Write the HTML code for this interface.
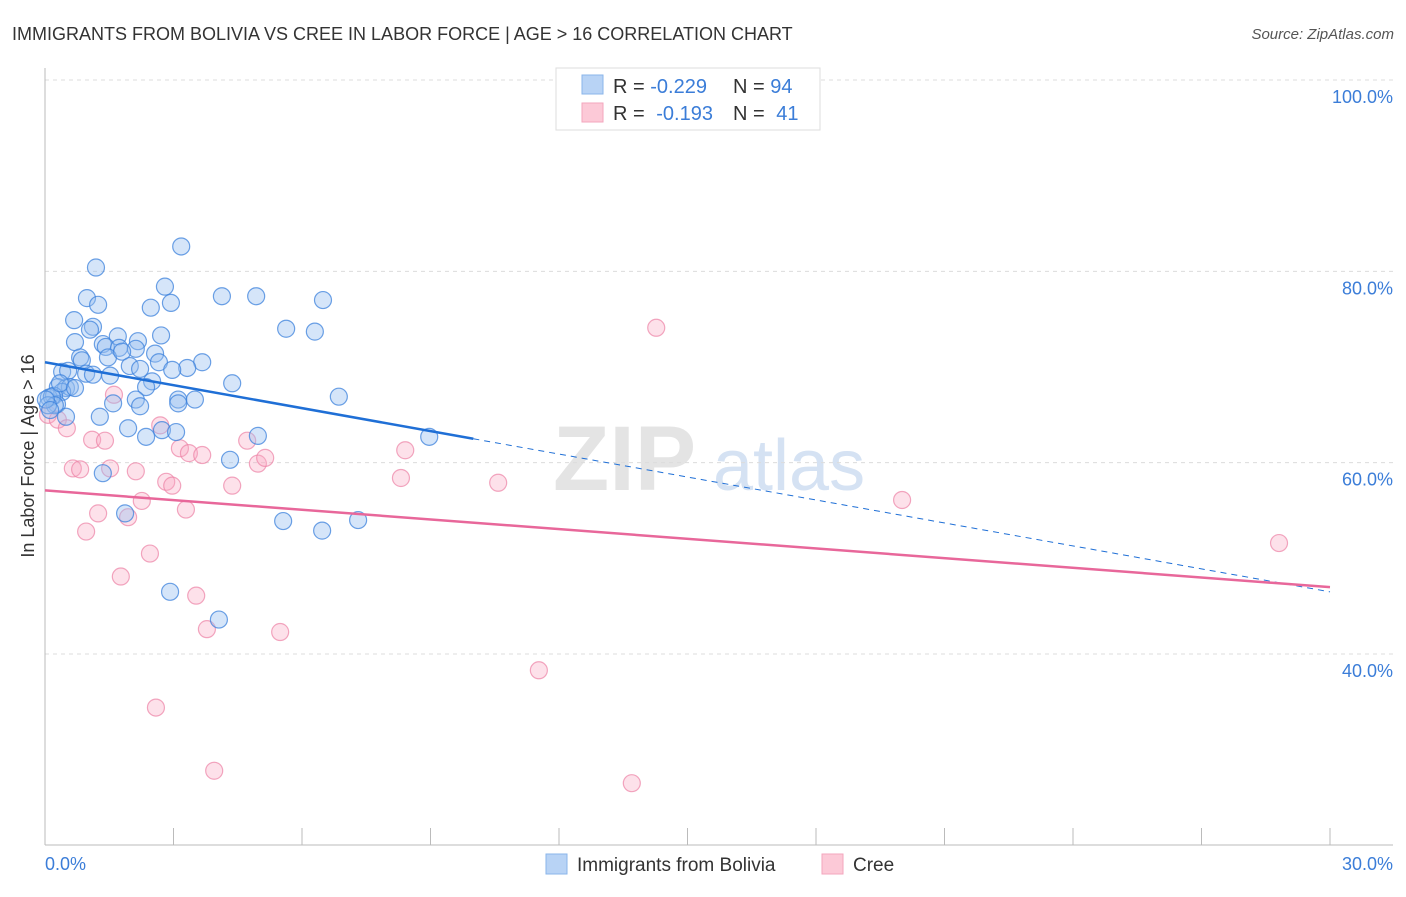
<!DOCTYPE html>
<html><head><meta charset="utf-8"><style>
body{margin:0;background:#fff;font-family:"Liberation Sans",sans-serif;}
svg text{font-family:"Liberation Sans",sans-serif;}
</style></head><body>
<svg id="chart" width="1406" height="892" viewBox="0 0 1406 892" xmlns="http://www.w3.org/2000/svg">
<text x="12" y="40" font-size="18" fill="#333">IMMIGRANTS FROM BOLIVIA VS CREE IN LABOR FORCE | AGE &gt; 16 CORRELATION CHART</text>
<text x="1394" y="39" font-size="15" fill="#555" font-style="italic" text-anchor="end">Source: ZipAtlas.com</text>
<g>
<text x="553" y="490" font-size="92" fill="#e4e4e4" font-family="Liberation Serif" font-weight="bold">ZIP</text>
<text x="713" y="490" font-size="72" fill="#d5e2f3">atlas</text>
</g>
<g id="grid"></g>
<g id="axes"></g>
<g id="marks"></g>
<text transform="translate(34,456) rotate(-90)" font-size="18" fill="#333" text-anchor="middle">In Labor Force | Age &gt; 16</text>
<text x="45" y="870" font-size="18" fill="#3b7dd8">0.0%</text>
<text x="1393" y="870" font-size="18" fill="#3b7dd8" text-anchor="end">30.0%</text>
<g>
<rect x="556" y="68" width="264" height="62" fill="#fff" stroke="#ddd"/>
<rect x="582" y="75" width="21" height="19" fill="#b8d3f5" stroke="#8ab4ea"/>
<rect x="582" y="103" width="21" height="19" fill="#fcc9d7" stroke="#f3a6bd"/>
<text x="613" y="93" font-size="20" fill="#333">R = <tspan fill="#3b7dd8">-0.229</tspan></text>
<text x="733" y="93" font-size="20" fill="#333">N = <tspan fill="#3b7dd8">94</tspan></text>
<text x="613" y="120" font-size="20" fill="#333">R = <tspan fill="#3b7dd8" dx="6">-0.193</tspan></text>
<text x="733" y="120" font-size="20" fill="#333">N = <tspan fill="#3b7dd8" dx="6">41</tspan></text>
</g>
<g>
<rect x="546" y="854" width="21" height="20" fill="#b8d3f5" stroke="#8ab4ea"/>
<text x="577" y="871" font-size="19" fill="#333">Immigrants from Bolivia</text>
<rect x="822" y="854" width="21" height="20" fill="#fcc9d7" stroke="#f3a6bd"/>
<text x="853" y="871" font-size="19" fill="#333">Cree</text>
</g>
</svg>
<script>
const yTicks=[100,80,60,40];
const yTickLabels=["100.0%","80.0%","60.0%","40.0%"];
const xTicks=[0,3,6,9,12,15,18,21,24,27,30];
const blueX=[3.18,1.19,2.80,0.98,1.24,2.94,2.47,4.13,4.93,6.49,0.68,1.12,1.05,1.70,5.63,6.30,2.71,2.17,0.70,1.35,1.42,1.73,2.12,2.57,0.82,0.86,1.47,1.80,3.67,2.66,1.98,2.22,0.40,0.54,0.96,1.12,1.52,3.32,2.97,2.50,2.36,4.37,0.30,0.49,0.58,0.40,6.86,3.11,3.50,3.11,2.12,2.22,1.59,0.09,0.21,0.28,0.49,1.28,1.94,2.73,3.06,2.36,4.97,8.97,4.32,1.35,1.87,5.56,7.31,6.47,2.92,4.06,0.16,0.23,0.07,0.35,0.02,0.12,0.70];
const blueY=[82.6,80.4,78.4,77.2,76.5,76.7,76.2,77.4,77.4,77.0,74.9,74.2,73.9,73.2,74.0,73.7,73.3,72.7,72.6,72.4,72.1,72.0,71.9,71.4,71.0,70.7,71.0,71.6,70.5,70.5,70.1,69.8,69.5,69.6,69.3,69.2,69.1,69.9,69.7,68.5,67.9,68.3,67.9,67.8,67.9,67.4,66.9,66.6,66.6,66.2,66.6,65.9,66.2,66.8,67.0,66.1,64.8,64.8,63.6,63.4,63.2,62.7,62.8,62.7,60.3,58.9,54.7,53.9,54.0,52.9,46.5,43.6,66.9,66.0,66.0,68.3,66.6,65.5,67.8];
const pinkX=[14.27,0.07,0.30,0.51,1.10,1.40,2.69,4.72,3.15,3.36,3.67,4.97,8.41,5.14,0.65,0.82,1.52,2.12,2.83,2.97,4.37,8.31,10.58,20.01,2.26,3.29,1.24,1.94,0.96,2.45,28.81,1.77,3.53,3.78,5.49,11.53,2.59,3.95,13.70,1.61];
const pinkY=[74.1,65.0,64.5,63.6,62.4,62.3,63.9,62.3,61.5,61.0,60.8,59.9,61.3,60.5,59.4,59.3,59.4,59.1,58.0,57.6,57.6,58.4,57.9,56.1,56.0,55.1,54.7,54.3,52.8,50.5,51.6,48.1,46.1,42.6,42.3,38.3,34.4,27.8,26.5,67.1];
const blueTrend=[70.5,-0.8];
const pinkTrend=[57.1,-0.337];
const blueSolidEnd=10;

const NS="http://www.w3.org/2000/svg";
const X0=45,X1=1330,YTOP=80,PXPER=9.567;
function sx(v){return X0+(v/30)*(X1-X0);}
function sy(v){return YTOP+(100-v)*PXPER;}
function mk(tag,attrs,parent){const e=document.createElementNS(NS,tag);for(const k in attrs)e.setAttribute(k,attrs[k]);parent.appendChild(e);return e;}
const grid=document.getElementById('grid'),axes=document.getElementById('axes'),marks=document.getElementById('marks');
yTicks.forEach((t,i)=>{
 const l=mk('line',{x1:X0,x2:1393,y1:sy(t),y2:sy(t),stroke:'#dcdcdc','stroke-dasharray':'4,4'},grid);
 
 
 const tx=mk('text',{x:1393,y:sy(t)+23,'font-size':18,fill:'#3b7dd8','text-anchor':'end'},axes);
 tx.textContent=yTickLabels[i];
 
 
});
const la=mk('line',{x1:X0,x2:X0,y1:68,y2:845,stroke:'#bbb'},axes);


const lb=mk('line',{x1:X0,x2:1393,y1:845,y2:845,stroke:'#bbb'},axes);


xTicks.forEach(t=>{
 const k=mk('line',{x1:sx(t),x2:sx(t),y1:828,y2:845,stroke:'#bbb'},axes);
 
 
});
function dots(xs,ys,fill,stroke,name){
 xs.forEach((x,i)=>{
  const c=mk('circle',{cx:sx(x),cy:sy(ys[i]),r:8.5,fill:fill,stroke:stroke,'stroke-width':1.2},marks);
  
  
 });
}
dots(pinkX,pinkY,'rgba(248,170,195,0.35)','rgba(236,130,165,0.7)','cree-point');
dots(blueX,blueY,'rgba(150,190,240,0.4)','rgba(60,130,220,0.75)','bolivia-point');
function ty(tr,x){return tr[0]+tr[1]*x;}
const b1=mk('line',{x1:sx(0),y1:sy(ty(blueTrend,0)),x2:sx(blueSolidEnd),y2:sy(ty(blueTrend,blueSolidEnd)),stroke:'#1f6fd6','stroke-width':2.5},marks);


const b2=mk('line',{x1:sx(blueSolidEnd),y1:sy(ty(blueTrend,blueSolidEnd)),x2:sx(30),y2:sy(ty(blueTrend,30)),stroke:'#1f6fd6','stroke-width':1,'stroke-dasharray':'6,5'},marks);


const p1=mk('line',{x1:sx(0),y1:sy(ty(pinkTrend,0)),x2:sx(30),y2:sy(ty(pinkTrend,30)),stroke:'#e8679a','stroke-width':2.5},marks);


</script>
</body></html>
